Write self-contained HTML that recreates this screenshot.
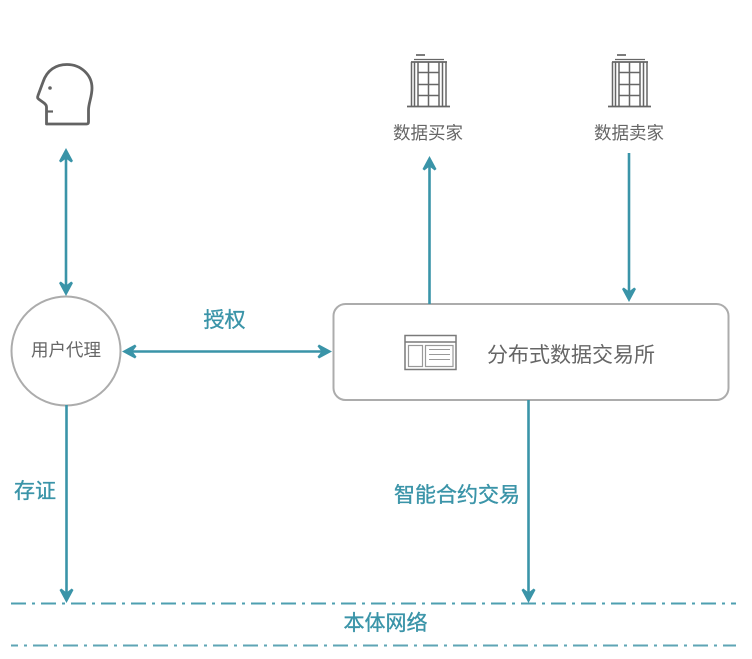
<!DOCTYPE html>
<html>
<head>
<meta charset="utf-8">
<style>
html,body{margin:0;padding:0;background:#fff;width:752px;height:659px;overflow:hidden}
svg{display:block}
text{font-family:"Liberation Sans","Noto Sans CJK SC",sans-serif}
.t{fill:#3a94a8;stroke:#3a94a8;stroke-width:.35px;font-size:21px;text-anchor:middle}
</style>
</head>
<body>
<svg width="752" height="659" viewBox="0 0 752 659" xmlns="http://www.w3.org/2000/svg">
<defs>
<path id="au" d="M0 0 L7 13 L5.200 14.500 L0 10.500 L-5.200 14.500 L-7 13 Z" fill="#3a94a8"/>
<g id="bld" stroke="#666" fill="none">
<line x1="407" y1="106.500" x2="450" y2="106.500" stroke-width="1.700"/>
<line x1="414" y1="59.500" x2="444" y2="59.500" stroke-width="1.300"/>
<line x1="416" y1="55" x2="425" y2="55" stroke-width="1.700"/>
<line x1="411" y1="62" x2="447" y2="62" stroke-width="1.700"/>
<path d="M411.500 62V106 M414.500 62V106 M418 62V106 M428.500 62V106 M439 62V106 M442.500 62V106 M446 62V106" stroke-width="1.500"/>
<path d="M418 72.500H439 M418 84.500H439 M418 95.500H439" stroke-width="1.500"/>
</g>
</defs>

<!-- person icon -->
<path d="M46.500 124 L46.500 107 Q46.500 105 44 103 L38.500 99 Q37 98 38 95.500 L43 82 C47 70 56 64.500 67 64.500 C81 64.500 92 75 92 88 C92 97 88.500 103 88.500 110 L88.500 122 Q88.500 124 86.500 124 Z" fill="none" stroke="#636363" stroke-width="2.800" stroke-linejoin="round"/>
<line x1="47" y1="111.500" x2="53" y2="111.500" stroke="#636363" stroke-width="2.200"/>
<circle cx="50" cy="88" r="1.800" fill="#636363"/>

<use href="#bld"/>
<use href="#bld" transform="translate(201,0)"/>

<text x="428" y="139" font-size="17.500" fill="#666" text-anchor="middle">数据买家</text>
<text x="629" y="139" font-size="17.500" fill="#666" text-anchor="middle">数据卖家</text>

<!-- circle -->
<circle cx="66" cy="351" r="54.500" fill="#fff" stroke="#acacac" stroke-width="2"/>
<text x="66" y="356" font-size="17.500" fill="#666" text-anchor="middle">用户代理</text>

<!-- box -->
<rect x="333.500" y="304" width="395" height="96" rx="12" ry="12" fill="#fff" stroke="#acacac" stroke-width="2"/>
<text x="571" y="362" font-size="21" fill="#666" text-anchor="middle">分布式数据交易所</text>

<!-- window icon -->
<g fill="none" stroke="#7a7a7a">
<rect x="405" y="335.500" width="51" height="34" stroke-width="1.500"/>
<line x1="405" y1="342" x2="456" y2="342" stroke-width="1.500"/>
<rect x="408.500" y="345.500" width="14" height="21" stroke="#999" stroke-width="1.200"/>
<rect x="425.500" y="345.500" width="27.500" height="21" stroke="#999" stroke-width="1.200"/>
<path d="M429 349.500H450 M429 354.500H450 M429 359.500H450" stroke="#999" stroke-width="1.100"/>
</g>

<!-- connectors -->
<g stroke="#3a94a8" stroke-width="2.600" fill="none">
<line x1="66" y1="156" x2="66" y2="288"/>
<line x1="429.500" y1="165" x2="429.500" y2="304"/>
<line x1="629" y1="153" x2="629" y2="294"/>
<line x1="131" y1="351.500" x2="323" y2="351.500"/>
<line x1="66.500" y1="405" x2="66.500" y2="594"/>
<line x1="528.500" y1="400" x2="528.500" y2="594"/>
</g>
<use href="#au" transform="translate(66,148)"/>
<use href="#au" transform="translate(66,296) rotate(180)"/>
<use href="#au" transform="translate(429.500,156)"/>
<use href="#au" transform="translate(629,302) rotate(180)"/>
<use href="#au" transform="translate(122,351.500) rotate(-90)"/>
<use href="#au" transform="translate(332,351.500) rotate(90)"/>
<use href="#au" transform="translate(66.500,603) rotate(180)"/>
<use href="#au" transform="translate(528.500,603) rotate(180)"/>

<!-- dash-dot lines -->
<line x1="11" y1="603.500" x2="736" y2="603.500" stroke="#4e9fb0" stroke-width="2" stroke-dasharray="15 6 3 6"/>
<line x1="11" y1="645.500" x2="736" y2="645.500" stroke="#5ea5b5" stroke-width="2" stroke-dasharray="15 6 3 6" stroke-dashoffset="8"/>

<!-- labels -->
<text class="t" x="224.500" y="327">授权</text>
<text class="t" x="35" y="498">存证</text>
<text class="t" x="457" y="502">智能合约交易</text>
<text class="t" x="385.500" y="630">本体网络</text>
</svg>
</body>
</html>
